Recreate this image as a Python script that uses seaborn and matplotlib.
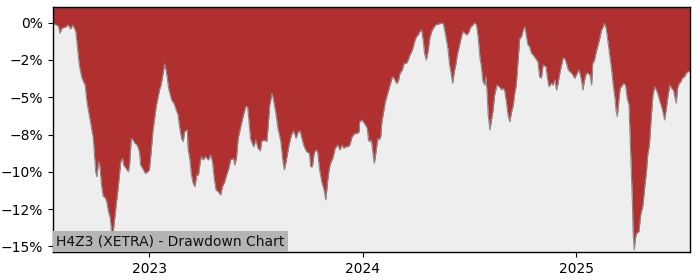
import numpy as np
import pandas as pd
import matplotlib
matplotlib.use("Agg")
import matplotlib.pyplot as plt
import matplotlib.dates as mdates
from matplotlib.ticker import FuncFormatter, MultipleLocator
import seaborn as sns

title_text = "H4Z3 (XETRA) - Drawdown Chart"

dates = [
    "2022-07-20", "2022-07-25", "2022-07-29", "2022-08-01", "2022-08-04", "2022-08-10",
    "2022-08-15", "2022-08-19", "2022-08-23", "2022-08-27", "2022-08-28", "2022-08-31",
    "2022-09-03", "2022-09-07", "2022-09-10", "2022-09-13", "2022-09-16", "2022-09-20",
    "2022-09-24", "2022-09-27", "2022-09-29", "2022-10-01", "2022-10-03", "2022-10-06",
    "2022-10-08", "2022-10-11", "2022-10-14", "2022-10-17", "2022-10-20", "2022-10-23",
    "2022-10-26", "2022-10-28", "2022-10-30", "2022-11-02", "2022-11-05", "2022-11-09",
    "2022-11-13", "2022-11-16", "2022-11-18", "2022-11-22", "2022-11-26", "2022-11-28",
    "2022-12-01", "2022-12-04", "2022-12-07", "2022-12-11", "2022-12-15", "2022-12-17",
    "2022-12-22", "2022-12-25", "2022-12-29", "2023-01-01", "2023-01-04", "2023-01-07",
    "2023-01-11", "2023-01-13", "2023-01-16", "2023-01-19", "2023-01-21", "2023-01-25",
    "2023-01-27", "2023-01-30", "2023-02-03", "2023-02-08", "2023-02-12", "2023-02-17",
    "2023-02-19", "2023-02-22", "2023-02-25", "2023-02-28", "2023-03-02", "2023-03-07",
    "2023-03-08", "2023-03-11", "2023-03-14", "2023-03-17", "2023-03-20", "2023-03-23",
    "2023-03-26", "2023-03-29", "2023-03-31", "2023-04-03", "2023-04-07", "2023-04-12",
    "2023-04-16", "2023-04-19", "2023-04-22", "2023-04-25", "2023-04-29", "2023-05-03",
    "2023-05-06", "2023-05-10", "2023-05-13", "2023-05-17", "2023-05-20", "2023-05-25",
    "2023-05-27", "2023-05-30", "2023-06-02", "2023-06-07", "2023-06-11", "2023-06-15",
    "2023-06-18", "2023-06-20", "2023-06-23", "2023-06-27", "2023-06-29", "2023-07-02",
    "2023-07-06", "2023-07-10", "2023-07-12", "2023-07-16", "2023-07-21", "2023-07-23",
    "2023-07-26", "2023-07-30", "2023-08-02", "2023-08-06", "2023-08-09", "2023-08-14",
    "2023-08-17", "2023-08-20", "2023-08-24", "2023-08-28", "2023-09-01", "2023-09-05",
    "2023-09-09", "2023-09-13", "2023-09-16", "2023-09-19", "2023-09-22", "2023-09-27",
    "2023-10-02", "2023-10-04", "2023-10-07", "2023-10-10", "2023-10-13", "2023-10-16",
    "2023-10-19", "2023-10-23", "2023-10-27", "2023-10-30", "2023-11-02", "2023-11-05",
    "2023-11-08", "2023-11-11", "2023-11-15", "2023-11-17", "2023-11-20", "2023-11-23",
    "2023-11-27", "2023-11-30", "2023-12-03", "2023-12-07", "2023-12-10", "2023-12-14",
    "2023-12-19", "2023-12-23", "2023-12-26", "2023-12-27", "2023-12-31", "2024-01-05",
    "2024-01-09", "2024-01-11", "2024-01-13", "2024-01-16", "2024-01-19", "2024-01-21",
    "2024-01-24", "2024-01-27", "2024-01-29", "2024-02-01", "2024-02-03", "2024-02-06",
    "2024-02-09", "2024-02-13", "2024-02-17", "2024-02-21", "2024-02-24", "2024-02-28",
    "2024-03-02", "2024-03-05", "2024-03-09", "2024-03-12", "2024-03-16", "2024-03-19",
    "2024-03-22", "2024-03-25", "2024-03-27", "2024-03-30", "2024-04-02", "2024-04-05",
    "2024-04-08", "2024-04-11", "2024-04-14", "2024-04-16", "2024-04-19", "2024-04-22",
    "2024-04-25", "2024-04-28", "2024-05-01", "2024-05-05", "2024-05-09", "2024-05-14",
    "2024-05-18", "2024-05-21", "2024-05-24", "2024-05-26", "2024-05-29", "2024-06-01",
    "2024-06-03", "2024-06-06", "2024-06-09", "2024-06-11", "2024-06-15", "2024-06-18",
    "2024-06-21", "2024-06-24", "2024-06-27", "2024-06-30", "2024-07-04", "2024-07-08",
    "2024-07-11", "2024-07-14", "2024-07-17", "2024-07-20", "2024-07-22", "2024-07-25",
    "2024-07-28", "2024-07-30", "2024-08-01", "2024-08-03", "2024-08-06", "2024-08-09",
    "2024-08-11", "2024-08-14", "2024-08-18", "2024-08-22", "2024-08-26", "2024-08-28",
    "2024-08-31", "2024-09-03", "2024-09-06", "2024-09-09", "2024-09-12", "2024-09-15",
    "2024-09-17", "2024-09-20", "2024-09-23", "2024-09-26", "2024-09-29", "2024-10-02",
    "2024-10-05", "2024-10-07", "2024-10-10", "2024-10-13", "2024-10-16", "2024-10-19",
    "2024-10-23", "2024-10-27", "2024-10-30", "2024-11-02", "2024-11-05", "2024-11-10",
    "2024-11-12", "2024-11-15", "2024-11-19", "2024-11-22", "2024-11-25", "2024-11-28",
    "2024-11-30", "2024-12-03", "2024-12-06", "2024-12-09", "2024-12-12", "2024-12-15",
    "2024-12-18", "2024-12-21", "2024-12-24", "2024-12-26", "2024-12-29", "2025-01-01",
    "2025-01-05", "2025-01-07", "2025-01-10", "2025-01-12", "2025-01-15", "2025-01-18",
    "2025-01-21", "2025-01-24", "2025-01-27", "2025-01-29", "2025-02-01", "2025-02-04",
    "2025-02-07", "2025-02-10", "2025-02-13", "2025-02-16", "2025-02-18", "2025-02-21",
    "2025-02-24", "2025-02-27", "2025-03-02", "2025-03-05", "2025-03-08", "2025-03-10",
    "2025-03-12", "2025-03-15", "2025-03-17", "2025-03-21", "2025-03-23", "2025-03-26",
    "2025-03-29", "2025-04-01", "2025-04-03", "2025-04-05", "2025-04-07", "2025-04-08",
    "2025-04-10", "2025-04-12", "2025-04-14", "2025-04-18", "2025-04-21", "2025-04-25",
    "2025-04-28", "2025-05-01", "2025-05-03", "2025-05-06", "2025-05-09", "2025-05-12",
    "2025-05-15", "2025-05-18", "2025-05-21", "2025-05-24", "2025-05-26", "2025-05-29",
    "2025-06-01", "2025-06-04", "2025-06-07", "2025-06-10", "2025-06-13", "2025-06-16",
    "2025-06-19", "2025-06-21", "2025-06-23", "2025-06-26", "2025-06-29", "2025-07-01",
    "2025-07-05", "2025-07-08", "2025-07-11", "2025-07-14",
]

drawdown_pct = [
    -0.04, -0.15, -0.20, -0.71, -0.38, -0.30,
    -0.15, -0.42, -0.15, -0.49, -0.60, -1.72,
    -2.84, -3.62, -3.95, -4.18, -5.30, -6.19,
    -7.08, -7.75, -8.87, -9.99, -10.32, -9.32,
    -9.54, -10.88, -11.66, -11.70, -12.00, -12.67,
    -13.10, -14.00, -14.40, -13.33, -12.22, -10.88,
    -9.32, -9.09, -9.54, -9.76, -9.99, -9.54,
    -7.75, -7.86, -8.08, -8.20, -8.65, -9.54,
    -9.87, -10.10, -9.99, -9.87, -8.65, -7.30,
    -6.10, -5.52, -4.95, -4.40, -4.18, -3.28,
    -2.75, -3.28, -4.40, -5.18, -5.40, -5.96,
    -6.19, -7.08, -7.75, -7.97, -7.30, -7.19,
    -8.42, -9.09, -10.21, -10.77, -10.99, -10.21,
    -10.21, -9.32, -8.98, -9.20, -8.98, -9.20,
    -8.87, -9.32, -10.43, -11.21, -11.33, -11.55,
    -10.99, -10.66, -10.21, -9.76, -9.20, -9.09,
    -9.54, -9.09, -7.75, -6.86, -6.19, -5.63,
    -5.63, -6.41, -7.75, -8.20, -8.31, -7.86,
    -8.42, -8.60, -7.97, -7.86, -7.97, -7.08,
    -5.52, -4.73, -5.29, -6.19, -7.08, -7.97,
    -9.09, -9.87, -9.09, -8.20, -7.53, -7.26,
    -7.75, -7.30, -7.26, -7.75, -8.20, -8.65,
    -8.76, -9.65, -9.65, -8.76, -8.53, -8.65,
    -9.76, -10.66, -11.21, -11.88, -10.66, -9.76,
    -9.32, -9.09, -8.42, -8.31, -8.20, -8.53,
    -8.20, -8.42, -8.31, -8.31, -8.20, -7.64,
    -7.42, -7.42, -7.30, -6.64, -6.52, -6.80,
    -7.08, -7.86, -7.97, -7.86, -8.87, -9.43,
    -8.65, -7.75, -7.86, -7.64, -6.64, -5.96,
    -5.29, -4.73, -4.18, -3.62, -3.73, -4.06,
    -3.95, -3.39, -3.17, -2.72, -2.72, -2.50,
    -2.16, -1.94, -1.72, -1.27, -0.94, -0.82,
    -0.60, -0.49, -1.27, -2.05, -2.50, -1.94,
    -1.05, -0.60, -0.38, -0.15, -0.10, -0.04,
    -0.04, -0.60, -1.27, -1.72, -2.84, -3.50,
    -4.06, -3.28, -2.72, -2.16, -1.50, -0.94,
    -0.60, -0.71, -0.82, -0.71, -0.30, -0.15,
    0.00, -0.15, -1.05, -2.39, -2.84, -3.95,
    -4.18, -3.62, -4.62, -6.19, -7.19, -6.41,
    -5.96, -4.85, -4.18, -4.29, -4.51, -4.40,
    -4.51, -5.29, -6.19, -6.64, -5.96, -5.52,
    -4.85, -4.18, -2.61, -1.05, -0.94, -0.49,
    -0.27, -0.82, -1.50, -1.61, -2.05, -2.16,
    -2.39, -2.61, -3.62, -3.73, -2.84, -2.95,
    -3.62, -4.29, -4.06, -4.18, -3.84, -4.51,
    -4.18, -3.50, -2.95, -2.39, -2.39, -2.72,
    -3.17, -3.28, -3.39, -3.50, -3.73, -3.50,
    -3.17, -3.39, -3.95, -4.51, -3.84, -3.39,
    -3.39, -3.50, -4.18, -2.72, -2.50, -1.94,
    -1.50, -1.05, -0.49, -0.27, -0.04, -0.38,
    -1.27, -2.16, -3.06, -4.18, -5.07, -5.96,
    -6.30, -5.07, -4.40, -4.18, -4.06, -4.18,
    -5.07, -5.52, -7.75, -9.99, -12.22, -14.00,
    -15.23, -14.45, -14.12, -14.00, -12.89, -12.22,
    -10.99, -9.99, -8.87, -8.20, -6.41, -4.85,
    -4.29, -4.51, -4.85, -5.29, -5.52, -5.96,
    -6.52, -5.74, -4.85, -4.18, -4.40, -4.51,
    -5.07, -5.40, -4.40, -4.06, -3.95, -3.73,
    -3.62, -3.39, -3.28, -3.28,
]

df = pd.DataFrame({"date": pd.to_datetime(dates), "drawdown": drawdown_pct})

fill_color = "#B03030"
bg_color = "#EEEEEE"
edge_color = "#8A8A8A"

fig = plt.figure(figsize=(7.0, 2.8), dpi=100)
ax = fig.add_axes([0.0757, 0.10, 0.9096, 0.875])
ax.set_facecolor(bg_color)

y_top = 1.05
y_bottom = -15.37

ax.fill_between(df["date"], df["drawdown"], y_top, color=fill_color, linewidth=0, zorder=1)
sns.lineplot(data=df, x="date", y="drawdown", ax=ax, color=edge_color, linewidth=0.8, zorder=2)

ax.set_ylim(y_bottom, y_top)
ax.set_xlim(df["date"].iloc[0], df["date"].iloc[-1])

ax.yaxis.set_major_locator(MultipleLocator(2.5))
ax.yaxis.set_major_formatter(FuncFormatter(lambda v, p: f"{v:.0f}%".replace("-", "\u2212")))
ax.xaxis.set_major_locator(mdates.YearLocator())
ax.xaxis.set_major_formatter(mdates.DateFormatter("%Y"))

ax.set_xlabel("")
ax.set_ylabel("")
ax.tick_params(axis="both", labelsize=10, length=3.5, width=0.8, colors="black")
for s in ax.spines.values():
    s.set_color("black")
    s.set_linewidth(1.0)

ax.text(0.0055, 0.014, title_text, transform=ax.transAxes, fontsize=10,
        ha="left", va="bottom", color="#111111", zorder=5,
        bbox=dict(boxstyle="square,pad=0.25", facecolor="#B4B4B4", edgecolor="none"))

fig.savefig("out.png", dpi=100)
